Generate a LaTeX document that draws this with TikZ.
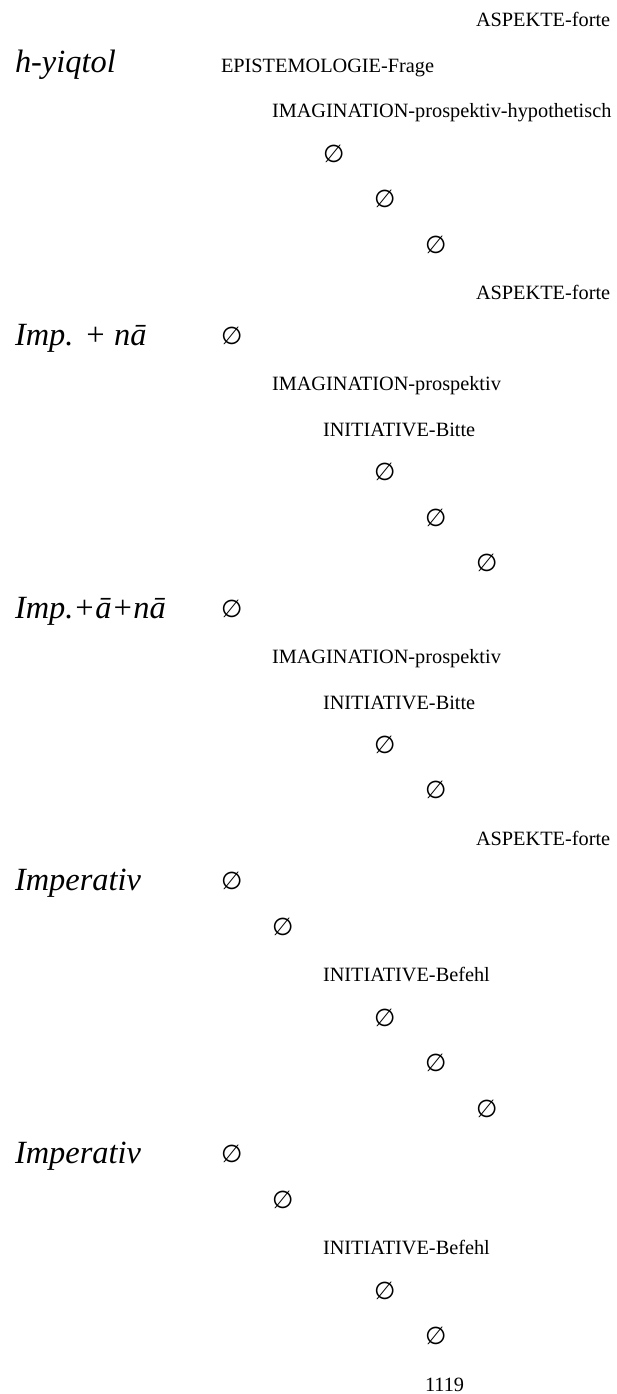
\documentclass[tikz,border=0pt]{standalone}
\usepackage{fontspec}
\setmainfont{Liberation Serif}
\newfontfamily\symf{DejaVu Sans}
\newcommand{\es}{{\symf ∅}}
\begin{document}
\begin{tikzpicture}[x=1pt,y=-1pt,
  txt/.style={anchor=base west,inner sep=0pt,outer sep=0pt,font=\fontsize{20.3pt}{24pt}\selectfont},
  lab/.style={anchor=base west,inner sep=0pt,outer sep=0pt,font=\fontsize{32.4pt}{38pt}\selectfont\itshape},
  emp/.style={anchor=base west,inner sep=0pt,outer sep=0pt,font=\fontsize{24.5pt}{28pt}\selectfont}]
\useasboundingbox (0,0) rectangle (616,1394);
% columns: 221 + 51(k-1); rows: baseline 27 + 45.47 r
\node[txt] (a0) at (476,{27+45.47*0}) {ASPEKTE-forte};
\node[lab] (l1) at (15,{27+45.47*1}) {h-yiqtol};
\node[txt] (a1) at (221,{27+45.47*1}) {EPISTEMOLOGIE-Frage};
\node[txt] (a2) at (272,{27+45.47*2}) {IMAGINATION-prospektiv-hypothetisch};
\node[emp] (a3) at (323,{26+45.47*3}) {\es};
\node[emp] (a4) at (374,{26+45.47*4}) {\es};
\node[emp] (a5) at (425,{26+45.47*5}) {\es};
\node[txt] (a6) at (476,{27+45.47*6}) {ASPEKTE-forte};
\node[lab] (l7) at (15,{27+45.47*7}) {Imp. + nā};
\node[emp] (a7) at (221,{26+45.47*7}) {\es};
\node[txt] (a8) at (272,{27+45.47*8}) {IMAGINATION-prospektiv};
\node[txt] (a9) at (323,{27+45.47*9}) {INITIATIVE-Bitte};
\node[emp] (a10) at (374,{26+45.47*10}) {\es};
\node[emp] (a11) at (425,{26+45.47*11}) {\es};
\node[emp] (a12) at (476,{26+45.47*12}) {\es};
\node[lab] (l13) at (15,{27+45.47*13}) {Imp.+ā+nā};
\node[emp] (a13) at (221,{26+45.47*13}) {\es};
\node[txt] (a14) at (272,{27+45.47*14}) {IMAGINATION-prospektiv};
\node[txt] (a15) at (323,{27+45.47*15}) {INITIATIVE-Bitte};
\node[emp] (a16) at (374,{26+45.47*16}) {\es};
\node[emp] (a17) at (425,{26+45.47*17}) {\es};
\node[txt] (a18) at (476,{27+45.47*18}) {ASPEKTE-forte};
\node[lab] (l19) at (15,{27+45.47*19}) {Imperativ};
\node[emp] (a19) at (221,{26+45.47*19}) {\es};
\node[emp] (a20) at (272,{26+45.47*20}) {\es};
\node[txt] (a21) at (323,{27+45.47*21}) {INITIATIVE-Befehl};
\node[emp] (a22) at (374,{26+45.47*22}) {\es};
\node[emp] (a23) at (425,{26+45.47*23}) {\es};
\node[emp] (a24) at (476,{26+45.47*24}) {\es};
\node[lab] (l25) at (15,{27+45.47*25}) {Imperativ};
\node[emp] (a25) at (221,{26+45.47*25}) {\es};
\node[emp] (a26) at (272,{26+45.47*26}) {\es};
\node[txt] (a27) at (323,{27+45.47*27}) {INITIATIVE-Befehl};
\node[emp] (a28) at (374,{26+45.47*28}) {\es};
\node[emp] (a29) at (425,{26+45.47*29}) {\es};
\node[txt] (a30) at (425,{27+45.47*30}) {1119};
\end{tikzpicture}
\end{document}
